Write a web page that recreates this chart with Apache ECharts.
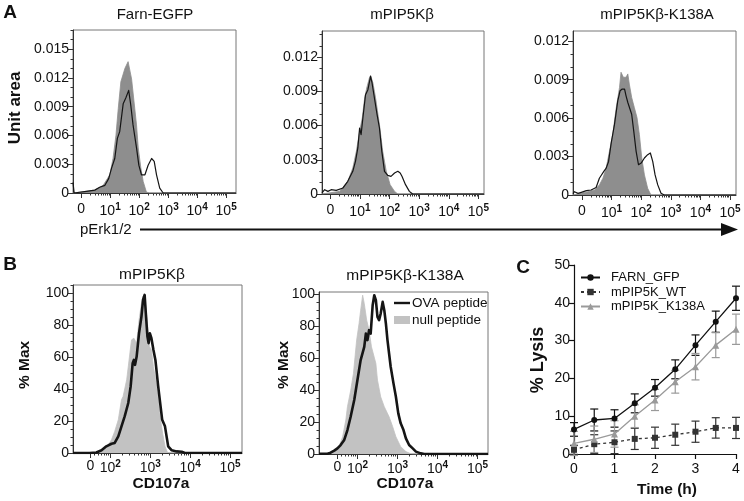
<!DOCTYPE html>
<html><head><meta charset="utf-8">
<script src="https://cdn.jsdelivr.net/npm/echarts@6/dist/echarts.min.js"></script>
<style>html,body{margin:0;padding:0;background:#fff}#c{width:744px;height:501px}</style>
</head><body><div id="c"></div>
<script>
// ---------- Panel A: pErk1/2 histograms (x in display decades: 0 -> 0, 10^k -> k) ----------
const A_XT = [0, 1, 2, 3, 4, 5];
const A_XL = ['0', '10{s|1}', '10{s|2}', '10{s|3}', '10{s|4}', '10{s|5}'];
const A1_YT = [0, 0.003, 0.006, 0.009, 0.012, 0.015];
const A23_YT = [0, 0.003, 0.006, 0.009, 0.012];

const a1Fill = [[-0.28,0],[0.24,0.0002],[0.47,0.0003],[0.76,0.0008],[0.99,0.0019],[1.10,0.0036],[1.20,0.0060],[1.28,0.0088],[1.37,0.0116],[1.51,0.0130],[1.62,0.0137],[1.74,0.0119],[1.85,0.0088],[1.91,0.0071],[1.97,0.0047],[2.06,0.0026],[2.14,0.0012],[2.25,0.0001],[2.35,0],[5.34,0]];
const a1Line = [[-0.28,0.0011],[-0.24,0],[0.24,0.0002],[0.47,0.0003],[0.64,0.0006],[0.82,0.0008],[0.95,0.0015],[1.05,0.0026],[1.16,0.0036],[1.25,0.0057],[1.33,0.0064],[1.45,0.0093],[1.54,0.0099],[1.64,0.0107],[1.71,0.0092],[1.79,0.0071],[1.91,0.0047],[1.99,0.0029],[2.08,0.0019],[2.20,0.0019],[2.31,0.0029],[2.43,0.0036],[2.52,0.0033],[2.60,0.0019],[2.71,0.0005],[2.83,0],[5.34,0]];

const a2Fill = [[-0.28,0],[0.31,0.00023],[0.59,0.00111],[0.76,0.00228],[0.88,0.00374],[0.99,0.0055],[1.08,0.00667],[1.16,0.00842],[1.23,0.0093],[1.32,0.01018],[1.36,0.01041],[1.44,0.00974],[1.53,0.00842],[1.66,0.00608],[1.77,0.00374],[1.89,0.00199],[2.02,0.00082],[2.17,0.00023],[2.28,0],[5.19,0]];
const a2Line = [[-0.28,0.0001],[-0.25,0.00023],[-0.19,0.00038],[-0.08,0.00023],[0.03,0.00038],[0.20,0.00032],[0.43,0.00053],[0.59,0.00111],[0.76,0.00199],[0.85,0.00287],[0.93,0.00404],[0.99,0.00579],[1.04,0.0052],[1.10,0.00667],[1.19,0.00871],[1.27,0.00915],[1.36,0.01032],[1.41,0.00974],[1.49,0.00842],[1.58,0.00696],[1.66,0.00579],[1.74,0.00374],[1.83,0.00199],[1.94,0.00164],[2.05,0.00155],[2.17,0.00184],[2.28,0.00199],[2.36,0.00184],[2.42,0.00155],[2.54,0.00082],[2.67,0.00023],[2.78,0],[5.19,0]];

const a3Fill = [[-0.30,0],[-0.25,0.00005],[0.20,0.00026],[0.43,0.00039],[0.59,0.00079],[0.71,0.00131],[0.82,0.0021],[0.93,0.00341],[1.04,0.00472],[1.16,0.00682],[1.27,0.0084],[1.32,0.00958],[1.40,0.00919],[1.49,0.00919],[1.55,0.00945],[1.60,0.00866],[1.68,0.00761],[1.77,0.00682],[1.86,0.00604],[1.94,0.00472],[2.02,0.00289],[2.11,0.00157],[2.22,0.00052],[2.33,0],[5.20,0]];
const a3Line = [[-0.30,0.0001],[-0.25,0.00026],[-0.13,0.00013],[-0.02,0.00021],[0.15,0.00034],[0.31,0.00039],[0.48,0.00058],[0.59,0.00131],[0.65,0.00152],[0.74,0.00184],[0.82,0.0021],[0.90,0.00262],[0.99,0.00407],[1.10,0.00551],[1.21,0.00735],[1.29,0.00814],[1.36,0.00827],[1.44,0.00827],[1.49,0.00774],[1.55,0.00722],[1.60,0.00735],[1.68,0.0063],[1.75,0.00499],[1.83,0.00341],[1.91,0.00236],[2.00,0.00249],[2.11,0.00289],[2.22,0.00315],[2.31,0.00328],[2.39,0.00262],[2.47,0.00157],[2.56,0.00079],[2.67,0.00013],[2.78,0],[5.20,0]];

// ---------- Panel B: CD107a histograms (x: 0 -> 1.5, 10^k -> k) ----------
const B_XT = [1.5, 2, 3, 4, 5];
const B_XL = ['0', '10{s|2}', '10{s|3}', '10{s|4}', '10{s|5}'];
const B_YT = [0, 20, 40, 60, 80, 100];

const b1Null = [[1.065,0],[1.74,0.4],[1.90,3.1],[2.03,8.3],[2.11,13.5],[2.20,20.8],[2.28,33.3],[2.32,35.4],[2.41,45.8],[2.47,58.3],[2.53,70.8],[2.59,71.9],[2.66,68.8],[2.72,83.3],[2.78,93.8],[2.82,98.3],[2.87,95.8],[2.93,81.3],[2.98,66.7],[3.03,64.6],[3.08,54.2],[3.14,45.8],[3.20,33.3],[3.26,20.8],[3.31,12.5],[3.37,4.2],[3.43,0.4],[3.5,0],[5.30,0]];
const b1Ova = [[1.065,0],[1.48,0],[1.65,0.3],[1.78,1.7],[1.90,4.2],[2.03,5.8],[2.11,6.3],[2.20,10.4],[2.28,16.7],[2.36,22.9],[2.45,31.3],[2.51,41.7],[2.56,56.3],[2.59,58.3],[2.62,55.2],[2.66,60.4],[2.72,75],[2.78,85.4],[2.82,95.8],[2.86,99],[2.89,87.5],[2.93,72.9],[2.96,68.8],[2.99,75],[3.03,71.9],[3.08,64.6],[3.13,58.3],[3.20,41.7],[3.24,33.3],[3.30,20.8],[3.37,16.7],[3.41,10.4],[3.45,4.2],[3.54,1.7],[3.66,1.0],[3.79,0.8],[3.87,0],[5.30,0]];

const b2Null = [[1.04,0],[1.25,0.2],[1.42,1.3],[1.54,4.6],[1.63,10.8],[1.71,21.3],[1.75,29.6],[1.83,39.6],[1.90,50.4],[1.94,60.8],[1.98,71.3],[2.04,81.7],[2.08,90],[2.13,99.4],[2.17,94.2],[2.23,83.8],[2.29,77.5],[2.35,67.1],[2.46,56.7],[2.50,46.3],[2.58,35.8],[2.67,29.6],[2.79,23.3],[2.88,17.1],[2.96,10.8],[3.08,4.6],[3.21,1.5],[3.33,0.2],[3.4,0],[5.26,0]];
const b2Ova = [[1.04,0.2],[1.25,0.2],[1.33,0.8],[1.42,2.1],[1.50,3.5],[1.58,5.6],[1.67,8.8],[1.75,15],[1.83,23.3],[1.92,33.8],[2.00,46.3],[2.08,58.8],[2.17,67.1],[2.21,75.4],[2.25,71.3],[2.29,77.5],[2.33,75.4],[2.38,93.1],[2.42,99.4],[2.46,96.3],[2.50,85.8],[2.54,83.8],[2.58,87.9],[2.63,95.2],[2.67,90],[2.71,81.7],[2.75,71.3],[2.79,62.9],[2.83,54.6],[2.90,44.2],[2.96,35.8],[3.02,25.4],[3.08,19.2],[3.15,15],[3.21,9.8],[3.29,5.6],[3.38,3.5],[3.46,1.5],[3.58,0.4],[3.67,0],[5.26,0]];

// ---------- Panel C: % lysis over time ----------
const times = [0, 0.5, 1, 1.5, 2, 2.5, 3, 3.5, 4];
const farnGfp = [6.5, 9.0, 9.4, 13.4, 17.5, 22.4, 28.8, 35.0, 41.2];
const farnGfpErr = [1.8, 2.9, 2.3, 2.5, 2.2, 2.5, 2.7, 2.8, 3.2];
const pip5kWt = [1.1, 2.6, 3.1, 4.0, 4.3, 5.1, 5.9, 6.9, 6.9];
const pip5kWtErr = [1.2, 2.5, 3.0, 2.8, 2.8, 2.8, 2.8, 2.7, 2.8];
const pip5kK138A = [2.8, 3.9, 5.3, 10.0, 14.3, 19.1, 23.1, 28.8, 33.0];
const pip5kK138AErr = [3.2, 3.5, 3.5, 3.0, 2.8, 3.0, 3.5, 3.3, 4.0];

// ---------- build ----------
const FONT = "'Liberation Sans', Arial, Helvetica, sans-serif";
const AXC = '#333';
const TXT = '#111';

function near(list, v) { return list.findIndex(x => Math.abs(x - v) < 1e-9); }
function logMinor(kFrom, kTo, min, max) {
  const out = [];
  for (let k = kFrom; k <= kTo; k++) for (let m = 2; m <= 9; m++) {
    const u = k + Math.log10(m);
    if (u > min && u < max) out.push(u);
  }
  return out;
}
function steps(step, max) { const o = []; for (let i = 0; i * step <= max + 1e-12; i++) o.push(+(i * step).toFixed(6)); return o; }

const panels = [
  { grid: {left: 73, top: 30, width: 163, height: 163}, xmin: -0.28, xmax: 5.34, ymax: 0.0170,
    xt: A_XT, xl: A_XL, xm: logMinor(0, 4, -0.28, 5.34), yt: A1_YT, ym: steps(0.001, 0.0170), yfmt: v => v === 0 ? '0' : v.toFixed(3), yfs: 14,
    fill: a1Fill, line: a1Line, fillColor: '#8e8e8e', lineW: 1.2, names: ['a1n', 'a1s'], xm0: 9 },
  { grid: {left: 322, top: 31, width: 162, height: 163}, xmin: -0.28, xmax: 5.19, ymax: 0.0143,
    xt: A_XT, xl: A_XL, xm: logMinor(0, 4, -0.28, 5.19), yt: A23_YT, ym: steps(0.001, 0.0143), yfmt: v => v === 0 ? '0' : v.toFixed(3), yfs: 14,
    fill: a2Fill, line: a2Line, fillColor: '#8e8e8e', lineW: 1.2, names: ['a2n', 'a2s'], xm0: 9 },
  { grid: {left: 573, top: 31, width: 163, height: 164}, xmin: -0.30, xmax: 5.20, ymax: 0.0128,
    xt: A_XT, xl: A_XL, xm: logMinor(0, 4, -0.30, 5.20), yt: A23_YT, ym: steps(0.001, 0.0128), yfmt: v => v === 0 ? '0' : v.toFixed(3), yfs: 14,
    fill: a3Fill, line: a3Line, fillColor: '#8e8e8e', lineW: 1.2, names: ['a3n', 'a3s'], xm0: 9 },
  { grid: {left: 73, top: 285, width: 169, height: 168}, xmin: 1.065, xmax: 5.30, ymax: 105.2,
    xt: B_XT, xl: B_XL, xm: logMinor(1, 4, 1.55, 5.30), yt: B_YT, ym: steps(5, 105), yfmt: v => String(v), yfs: 14,
    fill: b1Null, line: b1Ova, fillColor: '#c2c2c2', lineW: 2.6, names: ['null peptide', 'OVA peptide'], xm0: 6 },
  { grid: {left: 319, top: 292, width: 169, height: 162}, xmin: 1.04, xmax: 5.26, ymax: 101.4,
    xt: B_XT, xl: B_XL, xm: logMinor(1, 4, 1.55, 5.26), yt: B_YT, ym: steps(5, 101), yfmt: v => String(v), yfs: 14,
    fill: b2Null, line: b2Ova, fillColor: '#c2c2c2', lineW: 2.6, names: ['null peptide', 'OVA peptide'], xm0: 6 }
];

const grid = [], xAxis = [], yAxis = [], series = [];
const richSup = { s: { fontSize: 10, fontWeight: 'bold', fontFamily: FONT, color: TXT, padding: [0, 0, 8, 0] } };

panels.forEach((p, gi) => {
  grid.push(Object.assign({ show: true, borderColor: '#777', borderWidth: 1, backgroundColor: 'rgba(0,0,0,0)' }, p.grid));
  const xi = xAxis.length, yi = yAxis.length;
  xAxis.push({ type: 'value', gridIndex: gi, position: 'bottom', min: p.xmin, max: p.xmax,
    axisLine: { show: true, onZero: false, lineStyle: { color: AXC, width: 1 } },
    axisTick: { show: true, customValues: p.xt, length: 5, lineStyle: { color: AXC } },
    axisLabel: { show: true, customValues: p.xt, margin: p.xm0, color: TXT, fontFamily: FONT, fontSize: 14,
      formatter: v => p.xl[near(p.xt, v)] || '', rich: richSup },
    splitLine: { show: false } });
  xAxis.push({ type: 'value', gridIndex: gi, position: 'bottom', min: p.xmin, max: p.xmax,
    axisLine: { show: false, onZero: false }, axisLabel: { show: false }, splitLine: { show: false },
    axisTick: { show: true, customValues: p.xm, length: 2.5, lineStyle: { color: AXC } } });
  yAxis.push({ type: 'value', gridIndex: gi, position: 'left', min: 0, max: p.ymax,
    axisLine: { show: true, onZero: false, lineStyle: { color: AXC, width: 1 } },
    axisTick: { show: true, customValues: p.yt, length: 5, lineStyle: { color: AXC } },
    axisLabel: { show: true, customValues: p.yt, margin: 4, color: TXT, fontFamily: FONT, fontSize: p.yfs, formatter: p.yfmt },
    splitLine: { show: false } });
  yAxis.push({ type: 'value', gridIndex: gi, position: 'left', min: 0, max: p.ymax,
    axisLine: { show: false, onZero: false }, axisLabel: { show: false }, splitLine: { show: false },
    axisTick: { show: true, customValues: p.ym, length: 2.5, lineStyle: { color: AXC } } });
  series.push({ type: 'line', name: p.names[0], xAxisIndex: xi, yAxisIndex: yi, data: p.fill, symbol: 'none',
    lineStyle: { color: p.fillColor, width: 0.8 }, itemStyle: { color: p.fillColor },
    areaStyle: { color: p.fillColor, opacity: 1 }, z: 2, silent: true });
  series.push({ type: 'line', name: p.names[1], xAxisIndex: xi, yAxisIndex: yi, data: p.line, symbol: 'none',
    lineStyle: { color: '#151515', width: p.lineW, join: 'round' }, itemStyle: { color: '#151515' }, z: 3, silent: true });
});

// Panel C
const cg = grid.length;
grid.push({ left: 574, top: 265, width: 162, height: 189 });
const cx = xAxis.length, cy = yAxis.length;
xAxis.push({ type: 'value', gridIndex: cg, min: 0, max: 4, interval: 1,
  axisLine: { show: true, onZero: false, lineStyle: { color: TXT, width: 1.2 } },
  axisTick: { show: true, length: 5, lineStyle: { color: TXT, width: 1.2 } },
  axisLabel: { margin: 8, color: TXT, fontFamily: FONT, fontSize: 14 }, splitLine: { show: false } });
yAxis.push({ type: 'value', gridIndex: cg, min: 0, max: 50, interval: 10,
  axisLine: { show: true, onZero: false, lineStyle: { color: TXT, width: 1.2 } },
  axisTick: { show: true, length: 5, lineStyle: { color: TXT, width: 1.2 } },
  axisLabel: { margin: 4, color: TXT, fontFamily: FONT, fontSize: 14 }, splitLine: { show: false } });

const cSeries = [
  { name: 'FARN_GFP', vals: farnGfp, err: farnGfpErr, color: '#111111', symbol: 'circle', size: 6, dash: 'solid' },
  { name: 'mPIP5K_WT', vals: pip5kWt, err: pip5kWtErr, color: '#333333', symbol: 'rect', size: 6, dash: [3, 3] },
  { name: 'mPIP5K_K138A', vals: pip5kK138A, err: pip5kK138AErr, color: '#9a9a9a', symbol: 'triangle', size: 7, dash: 'solid' }
];
cSeries.forEach((s, i) => {
  series.push({ type: 'custom', name: s.name + ' err', xAxisIndex: cx, yAxisIndex: cy, clip: false, z: 4 + i,
    data: times.map((t, j) => [t, s.vals[j] - s.err[j], s.vals[j] + s.err[j]]),
    encode: { x: 0, y: [1, 2] },
    renderItem: (params, api) => {
      const lo = api.coord([api.value(0), api.value(1)]);
      const hi = api.coord([api.value(0), api.value(2)]);
      const w = 4, st = { stroke: s.color, lineWidth: 1.2 };
      return { type: 'group', children: [
        { type: 'line', shape: { x1: lo[0], y1: lo[1], x2: hi[0], y2: hi[1] }, style: st },
        { type: 'line', shape: { x1: lo[0] - w, y1: lo[1], x2: lo[0] + w, y2: lo[1] }, style: st },
        { type: 'line', shape: { x1: hi[0] - w, y1: hi[1], x2: hi[0] + w, y2: hi[1] }, style: st }
      ] };
    } });
  series.push({ type: 'line', name: s.name, xAxisIndex: cx, yAxisIndex: cy, z: 10 + i,
    data: times.map((t, j) => [t, s.vals[j]]), symbol: s.symbol, symbolSize: s.size, showSymbol: true,
    itemStyle: { color: s.color }, lineStyle: { color: s.color, width: 1.3, type: s.dash } });
});

function txt(x, y, text, font, opt) {
  return Object.assign({ type: 'text', x: x, y: y, silent: true,
    style: { text: text, font: font, fill: TXT, align: 'center', verticalAlign: 'middle', textAlign: 'center', textVerticalAlign: 'middle' } }, opt || {});
}
const BOLD = s => 'bold ' + s + 'px ' + FONT;
const REG = s => s + 'px ' + FONT;
const graphic = [
  txt(10, 13, 'A', BOLD(19)), txt(10, 265, 'B', BOLD(19)), txt(523, 268, 'C', BOLD(19)),
  txt(155, 15, 'Farn-EGFP', REG(15)), txt(402, 15, 'mPIP5Kβ', REG(15)), txt(657, 15, 'mPIP5Kβ-K138A', REG(15)),
  txt(152, 275, 'mPIP5Kβ', REG(15.5)), txt(405, 276, 'mPIP5Kβ-K138A', REG(15.5)),
  txt(15, 108, 'Unit area', BOLD(17), { rotation: Math.PI / 2 }),
  txt(25, 365, '% Max', BOLD(15.5), { rotation: Math.PI / 2 }),
  txt(284, 365, '% Max', BOLD(15.5), { rotation: Math.PI / 2 }),
  txt(161, 484, 'CD107a', BOLD(15.5)), txt(405, 484, 'CD107a', BOLD(15.5)),
  txt(538, 360, '% Lysis', BOLD(18), { rotation: Math.PI / 2 }),
  txt(667, 490, 'Time (h)', BOLD(15.5)),
  { type: 'text', x: 80, y: 230, silent: true, style: { text: 'pErk1/2', font: REG(15), fill: TXT, align: 'left', verticalAlign: 'middle', textAlign: 'left', textVerticalAlign: 'middle' } },
  { type: 'line', silent: true, shape: { x1: 140, y1: 229.5, x2: 724, y2: 229.5 }, style: { stroke: '#111', lineWidth: 2 } },
  { type: 'polygon', silent: true, shape: { points: [[721, 223], [738, 229.5], [721, 236]] }, style: { fill: '#111' } }
];

const chart = echarts.init(document.getElementById('c'), null, { renderer: 'canvas' });
chart.setOption({
  animation: false,
  backgroundColor: '#ffffff',
  textStyle: { fontFamily: FONT },
  grid: grid, xAxis: xAxis, yAxis: yAxis, series: series, graphic: graphic,
  legend: [
    { data: ['FARN_GFP', 'mPIP5K_WT', 'mPIP5K_K138A'], orient: 'vertical', left: 580, top: 271, padding: 0,
      itemWidth: 19, itemHeight: 8, itemGap: 1.5, selectedMode: false,
      textStyle: { fontSize: 13, fontFamily: FONT, color: TXT, padding: [0, 0, 0, 6] } },
    { data: [{ name: 'OVA peptide', icon: 'path://M0,0 L20,0 L20,3 L0,3 Z' }, { name: 'null peptide', icon: 'rect' }],
      orient: 'vertical', left: 394, top: 296, padding: 0, itemWidth: 16, itemHeight: 8, itemGap: 3, selectedMode: false,
      textStyle: { fontSize: 13.5, fontFamily: FONT, color: TXT, padding: [0, 0, 0, -3] } }
  ]
});
</script></body></html>
